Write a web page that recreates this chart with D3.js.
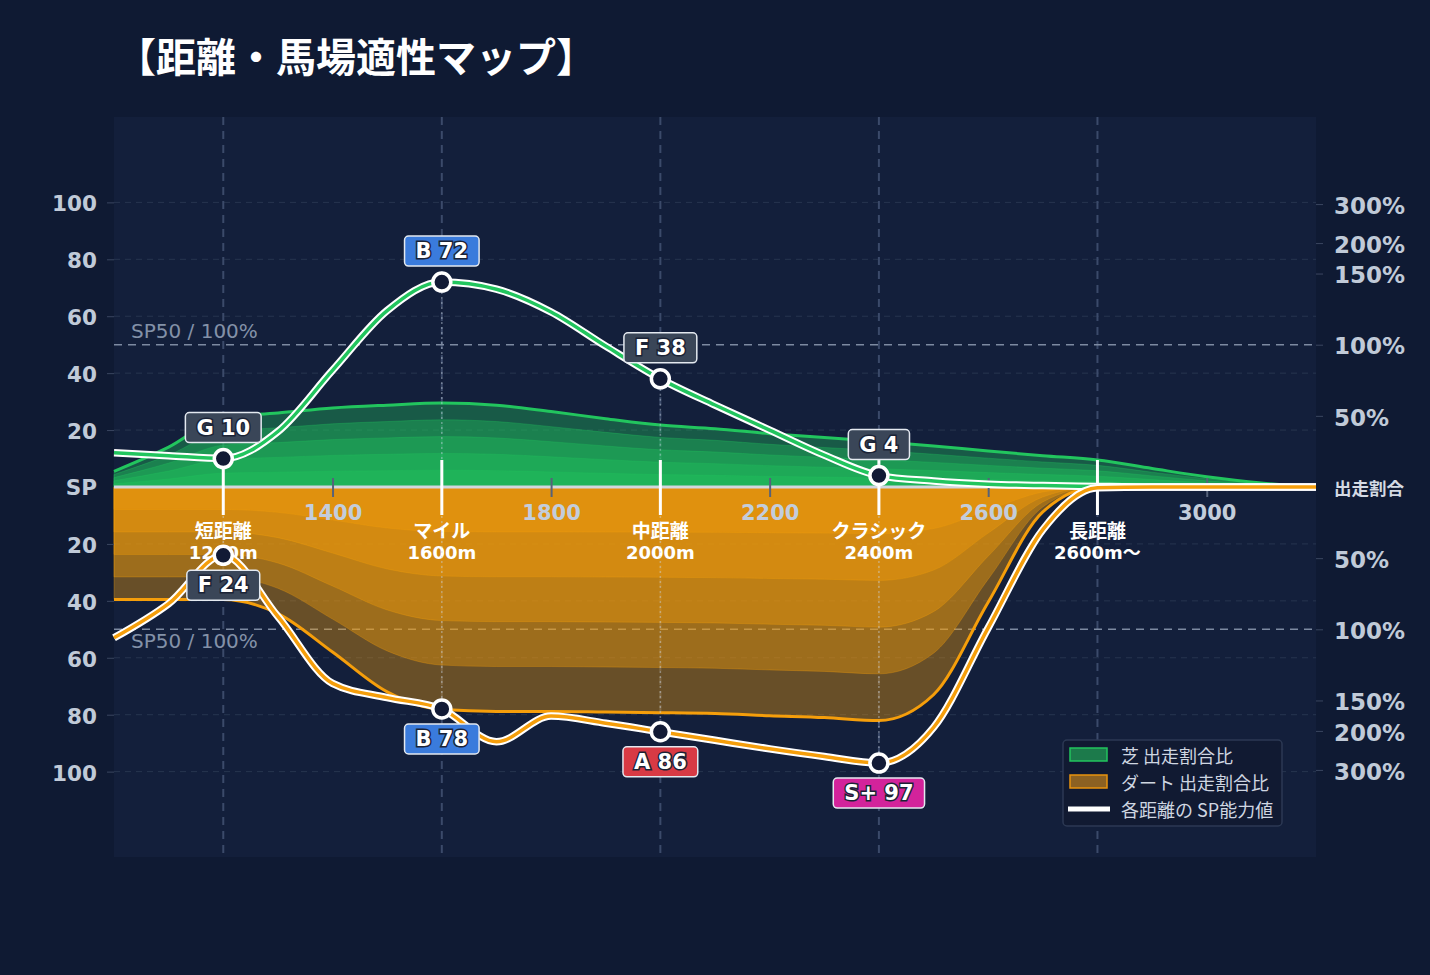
<!DOCTYPE html>
<html>
<head>
<meta charset="utf-8">
<script src="https://cdn.jsdelivr.net/npm/d3@7/dist/d3.min.js"></script>
<style>
  body { margin: 0; background: #0f1a33; }
  text { font-family: "DejaVu Sans", "Noto Sans CJK JP", sans-serif; }
</style>
</head>
<body>
<div id="wrapper"></div>
<script>
// distances every 100m
const distances = [1000, 1100, 1200, 1300, 1400, 1500, 1600, 1700, 1800, 1900, 2000, 2100,
                   2200, 2300, 2400, 2500, 2600, 2700, 2800, 2900, 3000, 3100, 3200];
const turfSP    = [12, 11, 10, 19.5, 41, 62, 72, 69.5, 61.5, 49.5, 38, 28.8,
                   20, 11.2, 4, 2.1, 1, 0.5, 0.2, 0, 0, 0, 0];
const dirtSP    = [53, 41, 24, 45.5, 69, 74, 78, 89.5, 80.5, 83, 86, 89,
                   92, 94.7, 97, 84.5, 49.5, 15, 0.3, 0, 0, 0, 0];
const turfRatio = [11, 28, 49, 52, 55.5, 57.5, 59, 57.5, 53, 48, 43.5, 41,
                   37.5, 34.7, 32, 28.8, 25.3, 22, 19, 13, 7.2, 2.8, 0];
const dirtRatio = [79, 79, 79, 89, 116, 144, 165, 168, 168, 169, 170, 171.5,
                   175, 178, 183, 146, 81, 17.5, 0, 0, 0, 0, 0];

const categories     = ["短距離", "マイル", "中距離", "クラシック", "長距離"];
const categoryDist   = [1200, 1600, 2000, 2400, 2800];
const categoryLabels = ["1200m", "1600m", "2000m", "2400m", "2600m〜"];
const turfGrades = ["G", "B", "F", "G", null];
const turfScores = [10, 72, 38, 4, null];
const dirtGrades = ["F", "B", "A", "S+", null];
const dirtScores = [24, 78, 86, 97, null];

const xTicks = [1400, 1800, 2200, 2600, 3000];
const spTicks = [20, 40, 60, 80, 100];
const ratioTicks = [50, 100, 150, 200, 300];
const layerFractions = [1, 0.8, 0.6, 0.4, 0.2];

const gradeColors = {"S+": "#d3239b", "S": "#d3239b", "A": "#d83a44", "B": "#3a7bdc",
                     "C": "#2f9e6a", "F": "#3a4658", "G": "#3a4658"};

const W = 1430, H = 975;
const margin = {top: 117, right: 114, bottom: 118, left: 114};
const plotL = margin.left, plotR = W - margin.right, plotT = margin.top, plotB = H - margin.bottom;
const zeroY = (plotT + plotB) / 2;

var x = d3.scaleLinear().domain([1000, 3200]).range([plotL, plotR]);
var yUp = d3.scaleLinear().domain([0, 130]).range([zeroY, plotT]);
var yDown = d3.scaleLinear().domain([0, 130]).range([zeroY, plotB]);
// ratio (%) -> SP units; compressed above 100%
var ratioToSP = d3.scaleLinear().domain([0, 100, 150, 200, 300]).range([0, 50, 75, 85.7, 99.4]);
var yRatioUp = d3.scaleLinear().domain(ratioToSP.domain()).range(ratioToSP.range().map(yUp));
var yRatioDown = d3.scaleLinear().domain(ratioToSP.domain()).range(ratioToSP.range().map(yDown));

var svg = d3.select("#wrapper")
  .append("svg")
    .attr("width", W)
    .attr("height", H);

svg.append("rect").attr("width", W).attr("height", H).attr("fill", "#0f1a33");
svg.append("rect")
  .attr("x", plotL).attr("y", plotT)
  .attr("width", plotR - plotL).attr("height", plotB - plotT)
  .attr("fill", "#131f3b");

/* title */
svg.append("text")
  .attr("x", 116).attr("y", 55)
  .attr("dominant-baseline", "central")
  .style("font-family", "'Noto Sans CJK JP', sans-serif")
  .style("font-weight", 700).style("font-size", "40px")
  .attr("fill", "#ffffff")
  .text("【距離・馬場適性マップ】");

/* horizontal grid */
var grid = svg.append("g");
spTicks.forEach(function(v) {
  [yUp(v), yDown(v)].forEach(function(yy) {
    grid.append("line")
      .attr("x1", plotL).attr("x2", plotR).attr("y1", yy).attr("y2", yy)
      .attr("stroke", "#27354f").attr("stroke-width", 1).attr("stroke-dasharray", "6,5");
  });
});
/* vertical category grid */
categoryDist.forEach(function(d) {
  grid.append("line")
    .attr("x1", x(d)).attr("x2", x(d)).attr("y1", plotT).attr("y2", plotB)
    .attr("stroke", "#3b4a6a").attr("stroke-width", 2).attr("stroke-dasharray", "8,6");
});
/* SP50 reference */
[yUp(50), yDown(50)].forEach(function(yy, i) {
  grid.append("line")
    .attr("x1", plotL).attr("x2", plotR).attr("y1", yy).attr("y2", yy)
    .attr("stroke", "#7d8aa1").attr("stroke-width", 1.5).attr("stroke-dasharray", "8,6");
  grid.append("text")
    .attr("x", 131).attr("y", i == 0 ? yy - 14 : yy + 12)
    .attr("dominant-baseline", "central")
    .style("font-size", "20px")
    .attr("fill", "#8391a8")
    .text("SP50 / 100%");
});

/* ratio layers */
var rows = distances.map(function(d, i) {
  return {d: d, tsp: turfSP[i], dsp: dirtSP[i], tr: ratioToSP(turfRatio[i]), dr: ratioToSP(dirtRatio[i])};
});

function drawLayers(key, yScale, color, opacity) {
  var g = svg.append("g");
  layerFractions.forEach(function(f) {
    var area = d3.area()
      .x(function(r) { return x(r.d); })
      .y0(zeroY)
      .y1(function(r) { return yScale(r[key] * f); })
      .curve(d3.curveMonotoneX);
    g.append("path")
      .datum(rows)
      .attr("d", area)
      .attr("fill", color).attr("fill-opacity", opacity)
      .attr("stroke", color).attr("stroke-opacity", 0.3).attr("stroke-width", 1);
  });
  var outline = d3.line()
    .x(function(r) { return x(r.d); })
    .y(function(r) { return yScale(r[key]); })
    .curve(d3.curveMonotoneX);
  g.append("path")
    .datum(rows)
    .attr("d", outline)
    .attr("fill", "none").attr("stroke", color).attr("stroke-width", 3);
}
drawLayers("tr", yUp, "#22c55e", 0.36);
drawLayers("dr", yDown, "#f59e0b", 0.38);

/* zero line */
svg.append("line")
  .attr("x1", plotL).attr("x2", plotR).attr("y1", zeroY).attr("y2", zeroY)
  .attr("stroke", "#d2d6de").attr("stroke-width", 3);

/* x axis */
var xAxis = svg.append("g")
  .attr("transform", "translate(0," + (zeroY - 9) + ")")
  .call(d3.axisBottom(x).tickValues(xTicks).tickSizeInner(19).tickSizeOuter(0).tickPadding(8).tickFormat(d3.format("d")));
xAxis.select(".domain").remove();
xAxis.selectAll(".tick line").attr("stroke", "#56627a").attr("stroke-width", 2);
xAxis.selectAll(".tick text")
  .attr("fill", "#c3cddb")
  .style("font-family", "'DejaVu Sans', sans-serif")
  .style("font-weight", 700).style("font-size", "21px");

/* left axis */
[yUp, yDown].forEach(function(sc) {
  var ax = svg.append("g")
    .attr("transform", "translate(" + plotL + ",0)")
    .call(d3.axisLeft(sc).tickValues(spTicks).tickSize(7).tickPadding(10));
  ax.select(".domain").remove();
  ax.selectAll(".tick line").attr("stroke", "#3a4660");
  ax.selectAll(".tick text")
    .attr("dy", "0.4em")
    .attr("fill", "#c0cad8")
    .style("font-family", "'DejaVu Sans', sans-serif")
    .style("font-weight", 700).style("font-size", "21.5px");
});
svg.append("text")
  .attr("x", plotL - 17).attr("y", zeroY)
  .attr("text-anchor", "end").attr("dominant-baseline", "central")
  .style("font-weight", 700).style("font-size", "21.5px")
  .attr("fill", "#c0cad8")
  .text("SP");

/* right axis */
[yRatioUp, yRatioDown].forEach(function(sc) {
  var ax = svg.append("g")
    .attr("transform", "translate(" + plotR + ",0)")
    .call(d3.axisRight(sc).tickValues(ratioTicks).tickSize(7).tickPadding(11).tickFormat(function(d) { return d + "%"; }));
  ax.select(".domain").remove();
  ax.selectAll(".tick line").attr("stroke", "#3a4660");
  ax.selectAll(".tick text")
    .attr("dy", "0.4em")
    .attr("fill", "#c0cad8")
    .style("font-family", "'DejaVu Sans', sans-serif")
    .style("font-weight", 700).style("font-size", "23px");
});
svg.append("text")
  .attr("x", plotR + 18).attr("y", zeroY)
  .attr("dominant-baseline", "central")
  .style("font-family", "'Noto Sans CJK JP', sans-serif")
  .style("font-weight", 700).style("font-size", "17.5px")
  .attr("fill", "#d4dae4")
  .text("出走割合");

/* category markers and labels */
categoryDist.forEach(function(d, i) {
  svg.append("line")
    .attr("x1", x(d)).attr("x2", x(d))
    .attr("y1", zeroY - 27).attr("y2", zeroY + 28)
    .attr("stroke", "#ffffff").attr("stroke-width", 3);
  svg.append("text")
    .attr("x", x(d)).attr("y", zeroY + 42)
    .attr("text-anchor", "middle").attr("dominant-baseline", "central")
    .style("font-family", "'Noto Sans CJK JP', sans-serif")
    .style("font-weight", 700).style("font-size", "19px")
    .attr("fill", "#ffffff")
    .text(categories[i]);
  svg.append("text")
    .attr("x", x(d)).attr("y", zeroY + 65)
    .attr("text-anchor", "middle").attr("dominant-baseline", "central")
    .style("font-family", "'DejaVu Sans', 'Noto Sans CJK JP', sans-serif")
    .style("font-weight", 700).style("font-size", "18px")
    .attr("fill", "#ffffff")
    .text(categoryLabels[i]);
});

/* drop lines from points to the baseline */
categoryDist.forEach(function(d, i) {
  if (turfScores[i] != null) {
    svg.append("line")
      .attr("x1", x(d)).attr("x2", x(d)).attr("y1", yUp(turfScores[i]) + 10).attr("y2", zeroY - 28)
      .attr("stroke", "#c8d2e2").attr("stroke-opacity", 0.45).attr("stroke-width", 1.5).attr("stroke-dasharray", "2,3");
  }
  if (dirtScores[i] != null) {
    svg.append("line")
      .attr("x1", x(d)).attr("x2", x(d)).attr("y1", zeroY + 29).attr("y2", yDown(dirtScores[i]) - 10)
      .attr("stroke", "#c8d2e2").attr("stroke-opacity", 0.45).attr("stroke-width", 1.5).attr("stroke-dasharray", "2,3");
  }
});

/* SP lines */
function drawSPLine(key, yScale, color) {
  var line = d3.line()
    .x(function(r) { return x(r.d); })
    .y(function(r) { return yScale(r[key]); })
    .curve(d3.curveMonotoneX);
  svg.append("path").datum(rows).attr("d", line)
    .attr("fill", "none").attr("stroke", "#ffffff").attr("stroke-width", 7.5);
  svg.append("path").datum(rows).attr("d", line)
    .attr("fill", "none").attr("stroke", color).attr("stroke-width", 3.5);
}
drawSPLine("tsp", yUp, "#22c55e");
drawSPLine("dsp", yDown, "#f59e0b");

/* points + grade badges */
function drawPoints(scores, grades, yScale, above) {
  categoryDist.forEach(function(d, i) {
    if (scores[i] == null) return;
    var cx = x(d), cy = yScale(scores[i]);
    svg.append("circle")
      .attr("cx", cx).attr("cy", cy).attr("r", 9)
      .attr("fill", "#121a35").attr("stroke", "#ffffff").attr("stroke-width", 3.5);
    var by = above ? cy - 46 : cy + 15;
    var g = svg.append("g");
    var box = g.append("rect")
      .attr("y", by).attr("height", 30).attr("rx", 4)
      .attr("fill", gradeColors[grades[i]])
      .attr("stroke", "#e4e9f0").attr("stroke-width", 1.5);
    var t = g.append("text")
      .attr("x", cx).attr("y", by + 15)
      .attr("text-anchor", "middle").attr("dominant-baseline", "central")
      .style("font-family", "'DejaVu Sans', sans-serif")
      .style("font-weight", 700).style("font-size", "21px")
      .attr("fill", "#ffffff")
      .attr("stroke", "#1b2336").attr("stroke-width", 3).attr("paint-order", "stroke")
      .text(grades[i] + " " + scores[i]);
    var w = t.node().getComputedTextLength() + 22;
    box.attr("x", cx - w / 2).attr("width", w);
  });
}
drawPoints(turfScores, turfGrades, yUp, true);
drawPoints(dirtScores, dirtGrades, yDown, false);

/* legend */
var legend = svg.append("g").attr("transform", "translate(1063,740)");
legend.append("rect")
  .attr("width", 219).attr("height", 86).attr("rx", 4)
  .attr("fill", "#111a32").attr("stroke", "#2c3954").attr("stroke-width", 1.5);
legend.append("rect").attr("x", 7).attr("y", 8).attr("width", 37).attr("height", 13)
  .attr("fill", "#1c7a4b").attr("stroke", "#22c55e").attr("stroke-width", 1.5);
legend.append("rect").attr("x", 7).attr("y", 35).attr("width", 37).attr("height", 13)
  .attr("fill", "#8c6122").attr("stroke", "#e8930e").attr("stroke-width", 1.5);
legend.append("line").attr("x1", 5).attr("x2", 47).attr("y1", 69).attr("y2", 69)
  .attr("stroke", "#ffffff").attr("stroke-width", 5);
["芝 出走割合比", "ダート 出走割合比", "各距離の SP能力値"].forEach(function(s, i) {
  legend.append("text")
    .attr("x", 58).attr("y", 15 + i * 27)
    .attr("dominant-baseline", "central")
    .style("font-family", "'Noto Sans CJK JP', sans-serif")
    .style("font-size", "18px")
    .attr("fill", "#cfd6e1")
    .text(s);
});
</script>
</body>
</html>
